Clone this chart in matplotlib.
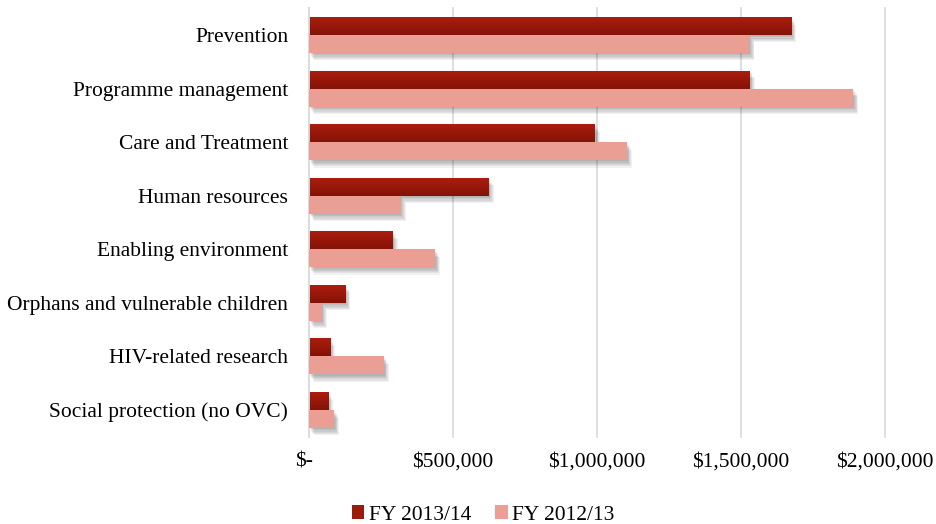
import numpy as np
import matplotlib
matplotlib.use("Agg")
import matplotlib.pyplot as plt
from matplotlib.colors import LinearSegmentedColormap
from matplotlib.patches import Patch
import matplotlib.patheffects as pe
import matplotlib.transforms as mtransforms

categories = [
    "Prevention",
    "Programme management",
    "Care and Treatment",
    "Human resources",
    "Enabling environment",
    "Orphans and vulnerable children",
    "HIV-related research",
    "Social protection (no OVC)",
]
fy_2013_14 = [1674000, 1531000, 993000, 624000, 291000, 126000, 73000, 66000]
fy_2012_13 = [1529000, 1890000, 1104000, 318000, 438000, 44000, 260000, 87000]
series_names = ["FY 2013/14", "FY 2012/13"]
x_ticks = [0, 500000, 1000000, 1500000, 2000000]
x_tick_labels = ["$-", "$500,000", "$1,000,000", "$1,500,000", "$2,000,000"]

FONT = "Liberation Serif"
FS = 15.5
DARK_TOP = "#ab1d0e"
DARK_BOT = "#841307"
DARK = "#9a1a0b"
LIGHT = "#eb9e94"
GRID = "#dcdcdc"

fig = plt.figure(figsize=(9.37, 5.24), dpi=100)
W, H = 937, 524
left, right, top, bottom = 309, 885, 8.2, 436.8
ax = fig.add_axes([left / W, 1 - bottom / H, (right - left) / W, (bottom - top) / H])

y = np.arange(len(categories))
h = 0.335

shadow = [pe.SimplePatchShadow(offset=(0.6 * k, -0.9 * k), shadow_rgbFace="#000000", alpha=0.055)
          for k in range(6, 0, -1)] + [pe.Normal()]

dark_bars = ax.barh(y - h / 2, fy_2013_14, height=h, color=DARK, zorder=2,
                    linewidth=0)
for b in dark_bars:
    b.set_path_effects(shadow)

cmap = LinearSegmentedColormap.from_list("grad", [DARK_TOP, DARK_BOT])
grad = np.linspace(0, 1, 64).reshape(-1, 1)
for b in dark_bars:
    x0, y0 = b.get_x(), b.get_y()
    x1, y1 = x0 + b.get_width(), y0 + b.get_height()
    im = ax.imshow(grad, extent=(x0, x1, y1, y0), origin="upper", aspect="auto",
                   cmap=cmap, zorder=2.5, interpolation="bilinear")
    im.set_clip_path(b)

light_bars = ax.barh(y + h / 2, fy_2012_13, height=h, color=LIGHT, zorder=3,
                     linewidth=0)
for b in light_bars:
    b.set_path_effects(shadow)

ax.set_xlim(0, 2000000)
ax.set_ylim(len(categories) - 0.5, -0.5)

ax.set_xticks(x_ticks)
ax.set_xticklabels(x_tick_labels, fontfamily=FONT, fontsize=FS)
ax.set_yticks(y)
ax.set_yticklabels(categories, fontfamily=FONT, fontsize=FS)
ax.tick_params(axis="both", length=0, colors="#000000")
ax.tick_params(axis="x", pad=11)
ax.tick_params(axis="y", pad=15)

# shift "$-" label slightly left like the accounting format
lbl0 = ax.get_xticklabels()[0]
lbl0.set_transform(lbl0.get_transform() + mtransforms.ScaledTranslation(-5 / 100, 0, fig.dpi_scale_trans))

ax.grid(axis="x", color=GRID, linewidth=1.3, zorder=0)
ax.set_axisbelow(True)
for gl in ax.get_xgridlines():
    gl.set_clip_on(False)
for s in ["top", "right", "bottom"]:
    ax.spines[s].set_visible(False)
ax.spines["left"].set_color(GRID)
ax.spines["left"].set_linewidth(1.3)

handles = [Patch(facecolor=DARK, edgecolor="none"), Patch(facecolor=LIGHT, edgecolor="none")]
fig.legend(handles, series_names, loc="center", bbox_to_anchor=(483 / W, 1 - 515 / H),
           ncol=2, frameon=False, prop={"family": FONT, "size": FS},
           handlelength=0.6, handleheight=0.6, handletextpad=0.2, columnspacing=1.1,
           borderpad=0, borderaxespad=0)

fig.savefig("out.png", dpi=100)
